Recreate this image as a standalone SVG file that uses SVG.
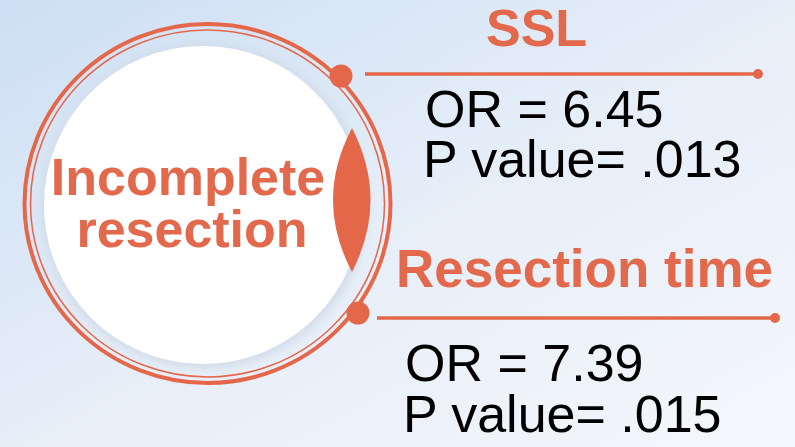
<svg xmlns="http://www.w3.org/2000/svg" width="795" height="447" viewBox="0 0 795 447">
  <defs>
    <linearGradient id="bg" x1="0" y1="0" x2="1" y2="1">
      <stop offset="0" stop-color="#cddff4"/>
      <stop offset="0.5" stop-color="#e6eef8"/>
      <stop offset="1" stop-color="#f5f7fb"/>
    </linearGradient>
    <filter id="soft" x="-20%" y="-20%" width="140%" height="140%">
      <feGaussianBlur stdDeviation="5"/>
    </filter>
    <style>
      .ring { fill: none; stroke: #e5674a; }
      .link { stroke: #e5674a; stroke-width: 3.5; fill: none; }
      .dot { fill: #e5674a; }
      .title { font-family: "Liberation Sans", Arial, sans-serif; font-weight: bold; font-size: 52px; fill: #e2694c; }
      .stat { font-family: "Liberation Sans", Arial, sans-serif; font-size: 52px; fill: #000000; }
    </style>
  </defs>

  <rect x="0" y="0" width="795" height="447" fill="url(#bg)"/>

  <g id="incomplete-resection">
    <circle cx="204" cy="206" r="163" fill="#d2dde9" filter="url(#soft)"/>
    <circle cx="203" cy="205" r="159" fill="#ffffff"/>
    <ellipse class="ring" cx="207.5" cy="203.5" rx="183" ry="179.5" stroke-width="4"/>
    <ellipse class="ring" cx="207.5" cy="203.5" rx="177" ry="173.5" stroke-width="1.5"/>
    <path d="M352,128 Q314,200 352,272 Q389,200 352,128 Z" fill="#e5674a"/>
    <text class="title" text-anchor="middle"><tspan x="188" y="195">Incomplete</tspan><tspan x="192" y="247">resection</tspan></text>
  </g>

  <g id="connectors">
    <circle class="dot" cx="341" cy="76" r="11.5"/>
    <line class="link" x1="365" y1="74" x2="758" y2="74"/>
    <circle class="dot" cx="758" cy="74" r="5"/>
    <circle class="dot" cx="358" cy="313" r="11.5"/>
    <line class="link" x1="377" y1="318" x2="775" y2="318"/>
    <circle class="dot" cx="775" cy="318" r="5"/>
  </g>

  <g id="ssl">
    <text class="title" x="486" y="46">SSL</text>
    <text class="stat"><tspan x="425" y="127">OR = 6.45</tspan><tspan x="423" y="177">P value= .013</tspan></text>
  </g>

  <g id="resection-time">
    <text class="title" x="396" y="287" style="font-size:53px">Resection time</text>
    <text class="stat"><tspan x="405" y="381">OR = 7.39</tspan><tspan x="403" y="432">P value= .015</tspan></text>
  </g>
</svg>
